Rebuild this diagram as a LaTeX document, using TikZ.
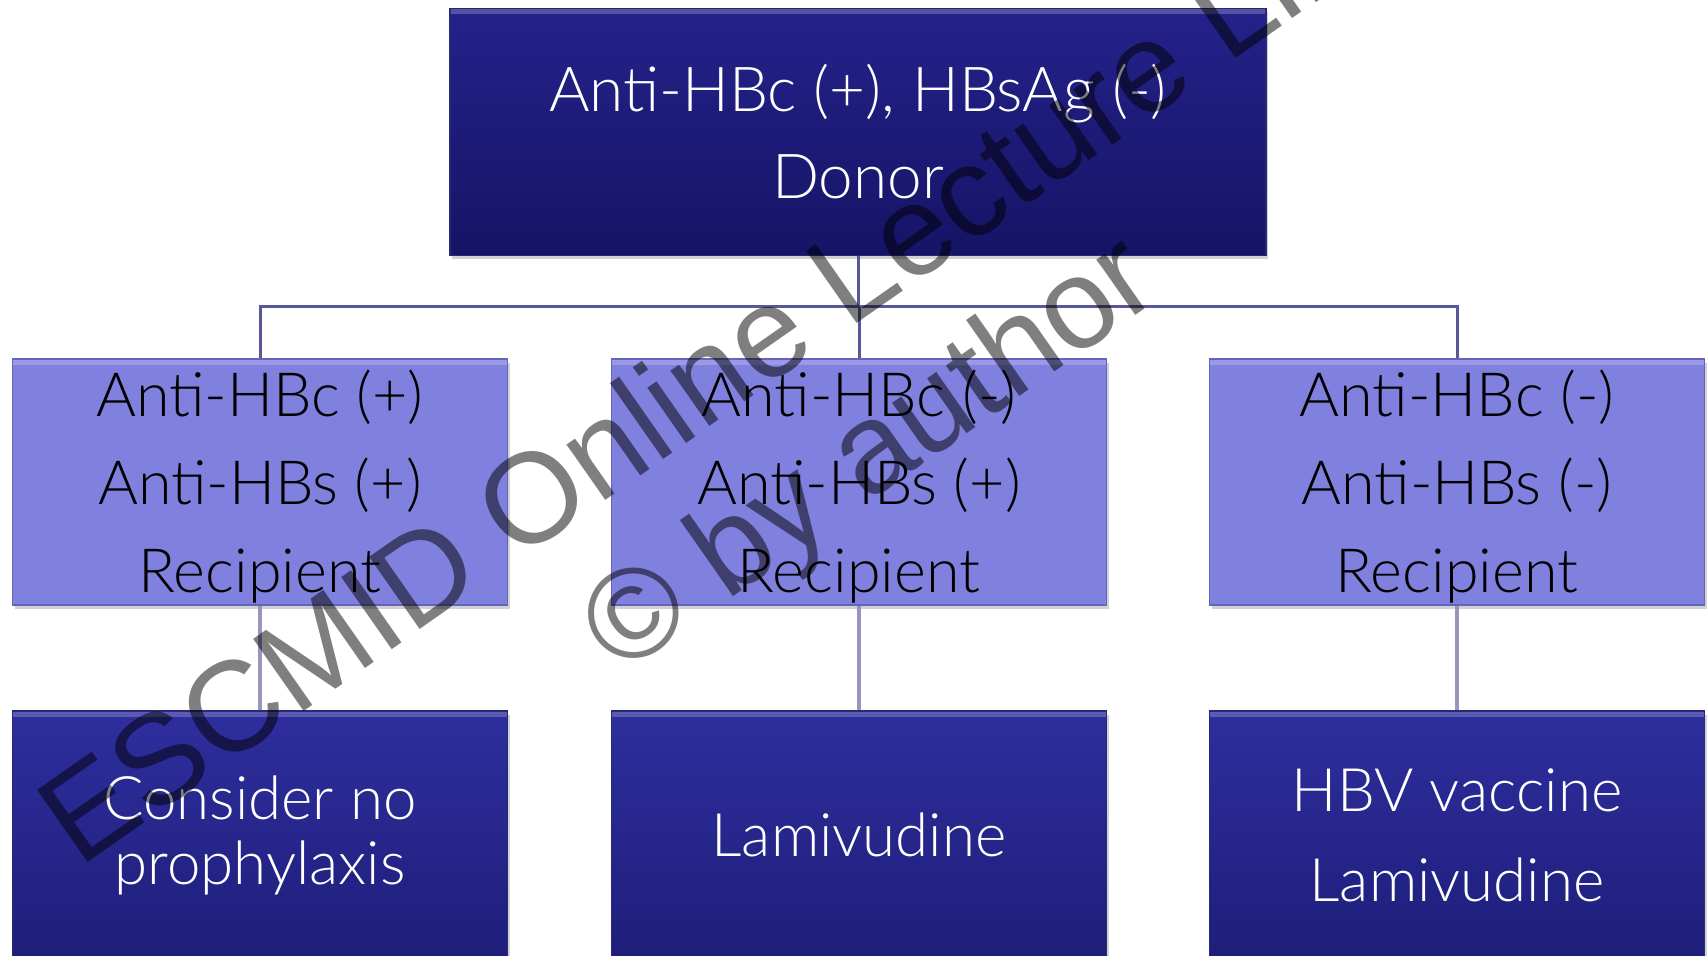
\documentclass[tikz,border=0pt]{standalone}
\usepackage{fontspec}
\setmainfont{Lato}[UprightFont=* Light]
\newfontfamily\wmfont{Liberation Sans}
\usetikzlibrary{shadows}
\definecolor{navytop}{RGB}{36,34,138}
\definecolor{navybot}{RGB}{22,20,102}
\definecolor{bluetop}{RGB}{46,46,158}
\definecolor{bluebot}{RGB}{30,30,122}
\definecolor{lilac}{RGB}{128,128,222}
\definecolor{lilacedge}{RGB}{100,100,190}
\definecolor{navyedge}{RGB}{40,40,120}
\definecolor{busline}{RGB}{88,88,150}
\definecolor{dropline}{RGB}{150,150,190}
\begin{document}
\begin{tikzpicture}[x=0.5pt,y=-0.5pt]
\tikzstyle{bevel}   = [drop shadow={shadow xshift=1pt, shadow yshift=-2pt, opacity=0.35},
                       path picture={\fill[white, opacity=0.22] (path picture bounding box.north west) rectangle ([yshift=-3pt]path picture bounding box.north east);}]
\tikzstyle{donor}   = [rectangle, text centered, align=center, text=white, draw=navyedge, line width=0.8pt, top color=navytop, bottom color=navybot, minimum width=408pt, minimum height=123.5pt, bevel]
\tikzstyle{recip}   = [rectangle, text centered, align=center, text=black, draw=lilacedge, line width=0.8pt, fill=lilac, minimum width=247.5pt, minimum height=123pt, inner sep=0pt, bevel]
\tikzstyle{treat}   = [rectangle, text centered, align=center, text=white, draw=navyedge, line width=0.8pt, top color=bluetop, bottom color=bluebot, minimum width=247.5pt, minimum height=124pt, bevel]
\tikzstyle{busl}    = [line width=1.5pt, busline]
\tikzstyle{dropl}   = [line width=2pt, dropline]
\tikzstyle{wmark}   = [rotate=35, anchor=base, inner sep=0pt, text=black, text opacity=0.5, font={\wmfont\fontsize{64}{75}\selectfont}]
\useasboundingbox (0,0) rectangle (1707,956);
\fill[white] (0,0) rectangle (1707,956);
\coordinate (bus) at (859,307);
% top row
\node[donor, font={\fontsize{31}{43.5}\selectfont}] at (858,132) (0_d_0) {Anti-HBc (+), HBsAg (-)\\Donor};
% recipients
\node[recip, font={\fontsize{30.5}{44}\selectfont}] at (260,482) (1_r_0) {\rule{0pt}{27.5pt}Anti-HBc (+)\\Anti-HBs (+)\\Recipient};
\node[recip, font={\fontsize{30.5}{44}\selectfont}] at (859,482) (1_r_1) {\rule{0pt}{27.5pt}Anti-HBc (-)\\Anti-HBs (+)\\Recipient};
\node[recip, font={\fontsize{30.5}{44}\selectfont}] at (1457,482) (1_r_2) {\rule{0pt}{27.5pt}Anti-HBc (-)\\Anti-HBs (-)\\Recipient};
% prophylaxis
\node[treat, font={\fontsize{30}{32.5}\selectfont}] at (260,835) (2_t_0) {Consider no\\prophylaxis};
\node[treat, font={\fontsize{30}{45}\selectfont}] at (859,835) (2_t_1) {Lamivudine};
\node[treat, font={\fontsize{30}{45}\selectfont}] at (1457,835) (2_t_2) {HBV vaccine\\Lamivudine};
\foreach \i in {0,1,2}{
  \draw[busl] (0_d_0.south) -- (0_d_0.south |- bus) -| (1_r_\i.north);
  \draw[dropl] (1_r_\i.south) -- (2_t_\i.north);
}
% watermark
\node[wmark] at (814,354) (wm_0) {ESCMID Online Lecture Library};
\node[wmark] at (892,486) (wm_1) {© by author};
\end{tikzpicture}
\end{document}
